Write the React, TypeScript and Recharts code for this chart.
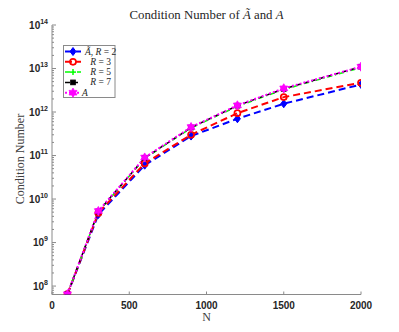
import React from 'react';
import { LineChart, Line, XAxis, YAxis } from 'recharts';

const N = [100, 300, 600, 900, 1200, 1500, 2000];
const condR2 = [6.4e7, 4.4e9, 6.0e10, 2.8e11, 7.0e11, 1.55e12, 4.3e12];
const condR3 = [6.5e7, 4.8e9, 6.6e10, 3.0e11, 9.4e11, 2.2e12, 4.7e12];
const condR5 = [6.5e7, 5.1e9, 8.6e10, 4.3e11, 1.35e12, 3.3e12, 1.05e13];
const condR7 = [6.5e7, 5.2e9, 8.8e10, 4.4e11, 1.4e12, 3.4e12, 1.1e13];
const condA = [6.5e7, 5.3e9, 9.0e10, 4.5e11, 1.42e12, 3.5e12, 1.1e13];
const xTicks = [0, 500, 1000, 1500, 2000];
const yDomain: [number, number] = [6.4e7, 1e14];

const data = N.map((n, i) => ({
  N: n,
  r2: condR2[i],
  r3: condR3[i],
  r5: condR5[i],
  r7: condR7[i],
  a: condA[i],
}));

const yTicks: number[] = [];
for (let e = 7; e <= 14; e++) {
  for (let k = 1; k <= 9; k++) {
    const v = k * Math.pow(10, e);
    if (v >= yDomain[0] && v <= yDomain[1]) yTicks.push(v);
  }
}

const AXIS = '#8a8a8a';
const TXT = '#262626';
const SANS = '"Liberation Sans", Arial, Helvetica, sans-serif';
const SERIF = '"Liberation Serif", "Times New Roman", serif';

const isMajor = (v: number) => {
  const e = Math.round(Math.log10(v));
  return Math.abs(v - Math.pow(10, e)) / v < 1e-6;
};

const LeftTick = (props: any) => {
  const { x, y, payload } = props;
  const v = payload.value;
  const major = isMajor(v);
  const e = Math.round(Math.log10(v));
  const ax = x + 4;
  return (
    <g>
      <line x1={ax} x2={ax + (major ? 4 : 2)} y1={y} y2={y} stroke={AXIS} strokeWidth={1} />
      {major && (
        <text x={x} y={y + 3.5} textAnchor="end" fontFamily={SANS} fontWeight="bold" fontSize={10} fill={TXT}>
          <tspan>10</tspan>
          <tspan dy={-5} fontSize={7}>{e}</tspan>
        </text>
      )}
    </g>
  );
};

const RightTick = (props: any) => {
  const { x, y, payload } = props;
  const major = isMajor(payload.value);
  return <line x1={x} x2={x - (major ? 4 : 2)} y1={y} y2={y} stroke={AXIS} strokeWidth={1} />;
};

const BottomTick = (props: any) => {
  const { x, y, payload } = props;
  const ay = y - 6;
  return (
    <g>
      <line x1={x} x2={x} y1={ay} y2={ay - 3} stroke={AXIS} strokeWidth={1} />
      <text x={x} y={y + 8} textAnchor="middle" fontFamily={SANS} fontWeight="bold" fontSize={10} fill={TXT}>
        {payload.value}
      </text>
    </g>
  );
};

const TopTick = (props: any) => {
  const { x, y } = props;
  return <line x1={x} x2={x} y1={y} y2={y + 3} stroke={AXIS} strokeWidth={1} />;
};

const hexPoints = (cx: number, cy: number, R: number) => {
  const pts: string[] = [];
  for (let i = 0; i < 12; i++) {
    const r = i % 2 === 0 ? R : R * 0.577;
    const ang = (-90 + i * 30) * Math.PI / 180;
    pts.push(`${cx + r * Math.cos(ang)},${cy + r * Math.sin(ang)}`);
  }
  return pts.join(' ');
};

const shapeFor = (kind: string, cx: number, cy: number, color: string) => {
  switch (kind) {
    case 'diamond':
      return <polygon points={`${cx},${cy - 4} ${cx + 3},${cy} ${cx},${cy + 4} ${cx - 3},${cy}`} fill={color} stroke={color} strokeWidth={1} />;
    case 'circle':
      return <circle cx={cx} cy={cy} r={3} fill="none" stroke={color} strokeWidth={1.7} />;
    case 'plus':
      return (
        <g stroke={color} strokeWidth={1.5}>
          <line x1={cx - 3} x2={cx + 3} y1={cy} y2={cy} />
          <line x1={cx} x2={cx} y1={cy - 3} y2={cy + 3} />
        </g>
      );
    case 'square':
      return <rect x={cx - 2.3} y={cy - 2.3} width={4.6} height={4.6} fill={color} stroke={color} />;
    case 'hex':
      return <polygon points={hexPoints(cx, cy, 4.6)} fill={color} stroke={color} strokeWidth={0.8} />;
  }
  return null;
};

const makeDot = (kind: string, color: string) => (props: any) => {
  const { cx, cy, index } = props;
  if (cx == null || cy == null) return <g key={`e${index}`} />;
  return <g key={`${kind}${index}`}>{shapeFor(kind, cx, cy, color)}</g>;
};

const series = [
  { key: 'r2', color: '#0000ff', dash: '7 4', width: 2, marker: 'diamond' },
  { key: 'r3', color: '#ff0000', dash: '7 4', width: 2, marker: 'circle' },
  { key: 'r5', color: '#00ff00', dash: '5 3 1 3', width: 1.5, marker: 'plus' },
  { key: 'r7', color: '#000000', dash: '5 3', width: 1.5, marker: 'square' },
  { key: 'a', color: '#ff00ff', dash: '2 2', width: 2, marker: 'hex' },
];

const legendRows = [
  { y: 51.5, label: 'tilde' },
  { y: 61.8, label: '3' },
  { y: 72.1, label: '5' },
  { y: 82.4, label: '7' },
  { y: 92.7, label: 'A' },
];

const LegendLabel = ({ kind, y }: { kind: string; y: number }) => {
  const base = y + 3;
  if (kind === 'tilde') {
    return (
      <text x={85} y={base} fontFamily={SERIF} fontSize={9.5} fill={TXT}>
        <tspan fontStyle="italic">Ã</tspan>
        <tspan>, </tspan>
        <tspan fontStyle="italic">R</tspan>
        <tspan> = 2</tspan>
      </text>
    );
  }
  if (kind === 'A') {
    return (
      <text x={82} y={base} fontFamily={SERIF} fontSize={9.5} fill={TXT} fontStyle="italic">A</text>
    );
  }
  return (
    <text x={111} y={base} textAnchor="end" fontFamily={SERIF} fontSize={9.5} fill={TXT}>
      <tspan fontStyle="italic">R</tspan>
      <tspan> = {kind}</tspan>
    </text>
  );
};

export default function App() {
  return (
    <div style={{ position: 'absolute', left: 0, top: 0, width: 399, height: 332, background: '#fff' }}>
      <LineChart width={399} height={332} data={data} margin={{ top: 25, right: 38, bottom: 0, left: 0 }}>
        <XAxis
          xAxisId="b"
          dataKey="N"
          type="number"
          domain={[0, 2000]}
          ticks={xTicks}
          interval={0}
          tickSize={0}
          tickMargin={6}
          height={37.5}
          axisLine={{ stroke: AXIS, strokeWidth: 1 }}
          tickLine={false}
          tick={<BottomTick />}
          allowDataOverflow
        />
        <XAxis
          xAxisId="t"
          orientation="top"
          dataKey="N"
          type="number"
          domain={[0, 2000]}
          ticks={xTicks}
          interval={0}
          tickSize={0}
          tickMargin={0}
          height={0}
          axisLine={{ stroke: AXIS, strokeWidth: 1 }}
          tickLine={false}
          tick={<TopTick />}
          allowDataOverflow
        />
        <YAxis
          yAxisId="l"
          type="number"
          scale="log"
          domain={yDomain}
          ticks={yTicks}
          interval={0}
          tickSize={0}
          tickMargin={4}
          width={52}
          axisLine={{ stroke: AXIS, strokeWidth: 1 }}
          tickLine={false}
          tick={<LeftTick />}
          allowDataOverflow
        />
        <YAxis
          yAxisId="r"
          orientation="right"
          type="number"
          scale="log"
          domain={yDomain}
          ticks={yTicks}
          interval={0}
          tickSize={0}
          tickMargin={0}
          width={0}
          axisLine={{ stroke: AXIS, strokeWidth: 1 }}
          tickLine={false}
          tick={<RightTick />}
          allowDataOverflow
        />
        {series.map((s) => (
          <Line
            key={s.key}
            xAxisId="b"
            yAxisId="l"
            dataKey={s.key}
            type="linear"
            stroke={s.color}
            strokeWidth={s.width}
            strokeDasharray={s.dash}
            dot={makeDot(s.marker, s.color)}
            activeDot={false}
            isAnimationActive={false}
          />
        ))}
      </LineChart>
      <svg
        width={399}
        height={332}
        style={{ position: 'absolute', left: 0, top: 0, pointerEvents: 'none' }}
      >
        <text x={206.5} y={19} textAnchor="middle" fontFamily={SERIF} fontSize={12.8} fill={TXT}>
          <tspan>Condition Number of </tspan>
          <tspan fontStyle="italic">Ã</tspan>
          <tspan> and </tspan>
          <tspan fontStyle="italic">A</tspan>
        </text>
        <text
          x={0}
          y={0}
          transform="translate(24,159) rotate(-90)"
          textAnchor="middle"
          fontFamily={SERIF}
          fontSize={12}
          fill="#404040"
        >
          Condition Number
        </text>
        <text x={206.5} y={321} textAnchor="middle" fontFamily={SERIF} fontSize={12} fill="#404040">N</text>
        <rect x={63.5} y={45.5} width={51.5} height={52} fill="#fff" stroke={AXIS} strokeWidth={1} />
        {series.map((s, i) => {
          const y = legendRows[i].y;
          return (
            <g key={`lg${s.key}`}>
              <line x1={65} x2={81} y1={y} y2={y} stroke={s.color} strokeWidth={s.width} strokeDasharray={s.dash} />
              {shapeFor(s.marker, 73, y, s.color)}
              <LegendLabel kind={legendRows[i].label} y={y} />
            </g>
          );
        })}
      </svg>
    </div>
  );
}
